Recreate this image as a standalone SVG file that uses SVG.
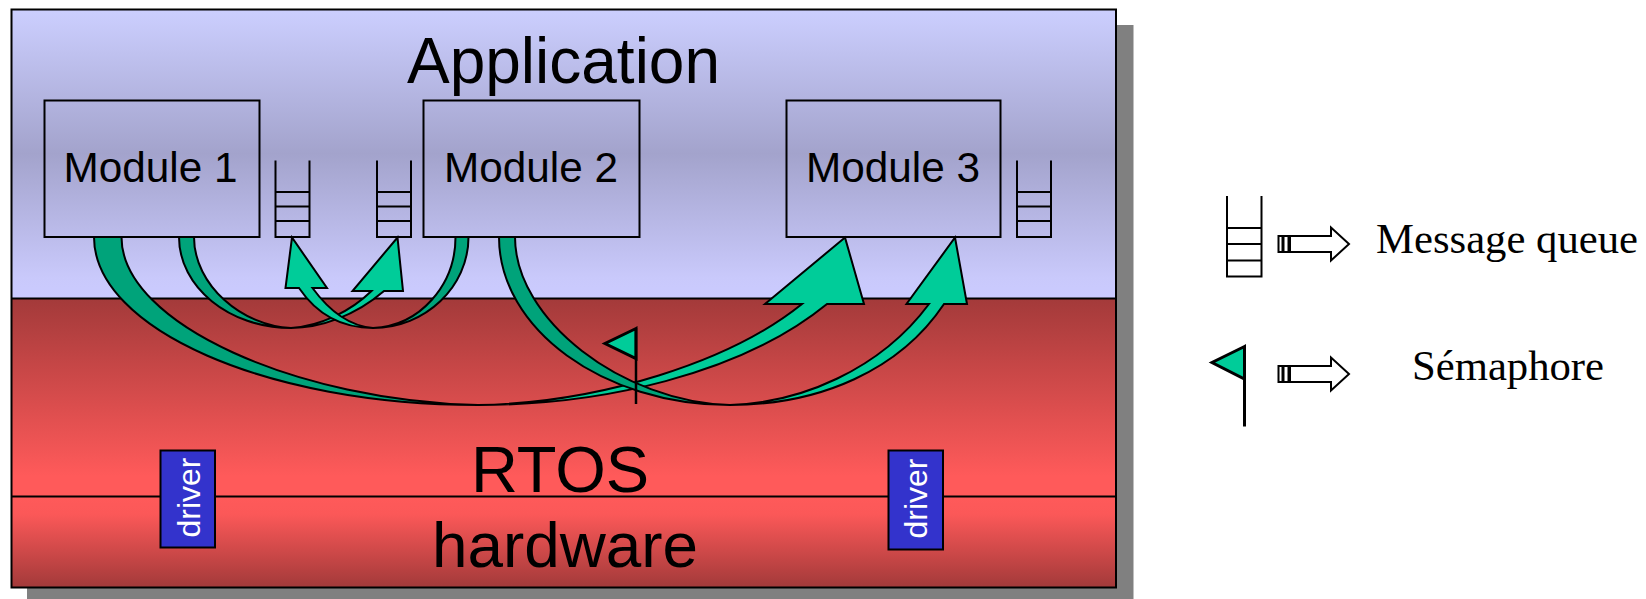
<svg xmlns="http://www.w3.org/2000/svg" width="1646" height="599" viewBox="0 0 1646 599">
<style>
.s{font-family:"Liberation Sans",Arial,sans-serif;fill:#000}
.t{font-family:"Liberation Serif","Times New Roman",serif;font-size:42.7px;fill:#000}
.big{text-anchor:middle}
.mod{font-size:42.3px;text-anchor:middle}
.box{stroke:#000;stroke-width:2;fill:url(#modg)}
.q{fill:none;stroke:#000;stroke-width:2}
.dk{fill:#00a37a;stroke:#000;stroke-width:2;stroke-linejoin:round}
.lt{fill:#00cc99;stroke:#000;stroke-width:2;stroke-linejoin:miter}
.flag{fill:#00cc99;stroke:#000;stroke-width:3;stroke-linejoin:miter}
.drv{fill:#3333cc;stroke:#000;stroke-width:2}
.dt{font-family:"Liberation Sans",Arial,sans-serif;font-size:32px;fill:#fff;text-anchor:middle}
.la{fill:#fff;stroke:#000;stroke-width:2}
</style>
<defs>
<linearGradient id="appg" gradientUnits="userSpaceOnUse" x1="0" y1="9" x2="0" y2="298">
<stop offset="0" stop-color="#cccfff"/><stop offset=".5" stop-color="#a3a3cc"/><stop offset=".93" stop-color="#c9c9fb"/><stop offset="1" stop-color="#cbcbff"/>
</linearGradient>
<linearGradient id="modg" gradientUnits="userSpaceOnUse" x1="0" y1="9" x2="0" y2="298">
<stop offset="0" stop-color="#cccfff"/><stop offset=".5" stop-color="#a3a3cc"/><stop offset=".93" stop-color="#c9c9fb"/><stop offset="1" stop-color="#cbcbff"/>
</linearGradient>
<linearGradient id="rtg" gradientUnits="userSpaceOnUse" x1="0" y1="298" x2="0" y2="496">
<stop offset="0" stop-color="#a33a3a"/><stop offset=".9" stop-color="#ff5a5a"/><stop offset="1" stop-color="#ff5a5a"/>
</linearGradient>
<linearGradient id="hwg" gradientUnits="userSpaceOnUse" x1="0" y1="496" x2="0" y2="587">
<stop offset="0" stop-color="#ff5a5a"/><stop offset=".2" stop-color="#fb5858"/><stop offset="1" stop-color="#a33a3a"/>
</linearGradient>
<g id="queue"><path class="q" d="M0 0V76.500H34V0M0 31.500H34M0 46H34M0 60.500H34"/></g>
<g id="larrow">
<path class="la" d="M12 -8H53V-16.500L71 0L53 16.500V8H12Z"/>
<rect class="la" x="5.500" y="-8" width="5" height="16"/>
<rect x="0.500" y="-8" width="4" height="16" fill="#fff" stroke="#000" stroke-width="2"/>
</g>
</defs>

<g id="shadow"><rect x="27" y="25" width="1106.500" height="574" fill="#808080"/></g>

<g id="application">
<rect x="11.500" y="9.500" width="1104.500" height="288.500" fill="url(#appg)"/>
<text class="s big" x="563.500" y="83" style="font-size:64px">Application</text>
</g>
<g id="rtos">
<rect x="11.500" y="298.500" width="1104.500" height="198" fill="url(#rtg)"/>
<text class="s big" x="560" y="491.500" style="font-size:65px">RTOS</text>
</g>
<g id="hardware">
<rect x="11.500" y="496" width="1104.500" height="91" fill="url(#hwg)"/>
<text class="s big" x="565" y="567" style="font-size:63.800px">hardware</text>
</g>
<path d="M11.500 298.500H1116M11.500 496.500H1116" stroke="#000" stroke-width="2" fill="none"/>
<rect x="11.500" y="9.500" width="1104.500" height="578" fill="none" stroke="#000" stroke-width="2"/>

<g id="module1"><rect class="box" x="44.500" y="100.500" width="215" height="136.500"/><text class="s mod" x="150.500" y="182">Module 1</text></g>
<g id="module2"><rect class="box" x="423.500" y="100.500" width="216" height="136.500"/><text class="s mod" x="531" y="182">Module 2</text></g>
<g id="module3"><rect class="box" x="786.500" y="100.500" width="214" height="136.500"/><text class="s mod" x="893" y="182">Module 3</text></g>
<g id="queue1"><use href="#queue" x="275.500" y="160.500"/></g>
<g id="queue2"><use href="#queue" x="377" y="160.500"/></g>
<g id="queue3"><use href="#queue" x="1017" y="160.500"/></g>

<g id="connectors">
<path class="lt" d="M478 405C600 405 740 375 827 304H864L845 237.500L765 304H802C730 362 600 403 478 405Z"/>
<path class="lt" d="M730 405C820 405 900 370 944 304H967L955 237.500L906.500 304H929C880 370 800 403 730 405Z"/>
<path class="dk" d="M94 237C94 329 267 405 478 405C300 401 121.500 325 121.500 237Z"/>
<path class="dk" d="M499 237C499 329 603 405 730 405C622 402 515 320 515 237Z"/>
<path class="lt" d="M291 328C320 328 355 316 384 291H403L397.500 237.500L352.500 291H371.500C350 312 320 326 291 328Z"/>
<path class="lt" d="M373 328C344 328 318 316 299 288H285.500L292 237.500L327 288H312.500C330 312 350 326 373 328Z"/>
<path class="dk" d="M179 237C179 287 229 328 291 328C242 326 194 285 194 237Z"/>
<path class="dk" d="M468.500 237C468.500 287 425 328 373 328C420 326 455.500 285 455.500 237Z"/>
</g>

<g id="semaphore">
<path class="flag" d="M636 328.500L605 343.500L636 358.500Z"/>
<path d="M636 328V404" stroke="#000" stroke-width="2.500" fill="none"/>
</g>

<g id="driver1"><rect class="drv" x="160.500" y="450.500" width="54.500" height="97"/><text class="dt" transform="translate(200 497.500) rotate(-90)">driver</text></g>
<g id="driver2"><rect class="drv" x="888.500" y="450.500" width="54.500" height="99"/><text class="dt" transform="translate(927 498.500) rotate(-90)">driver</text></g>

<g id="legend-queue">
<path class="q" d="M1227 196V276.500H1261.500V196M1227 228H1261.500M1227 244H1261.500M1227 260.500H1261.500"/>
<use href="#larrow" x="1278" y="244"/>
<text class="t" x="1376" y="253">Message queue</text>
</g>
<g id="legend-semaphore">
<path class="flag" d="M1244.500 346.500L1212 362.500L1244.500 379Z"/>
<path d="M1244.500 346V426.500" stroke="#000" stroke-width="3" fill="none"/>
<use href="#larrow" x="1278" y="374"/>
<text class="t" x="1412" y="380">Sémaphore</text>
</g>
</svg>
